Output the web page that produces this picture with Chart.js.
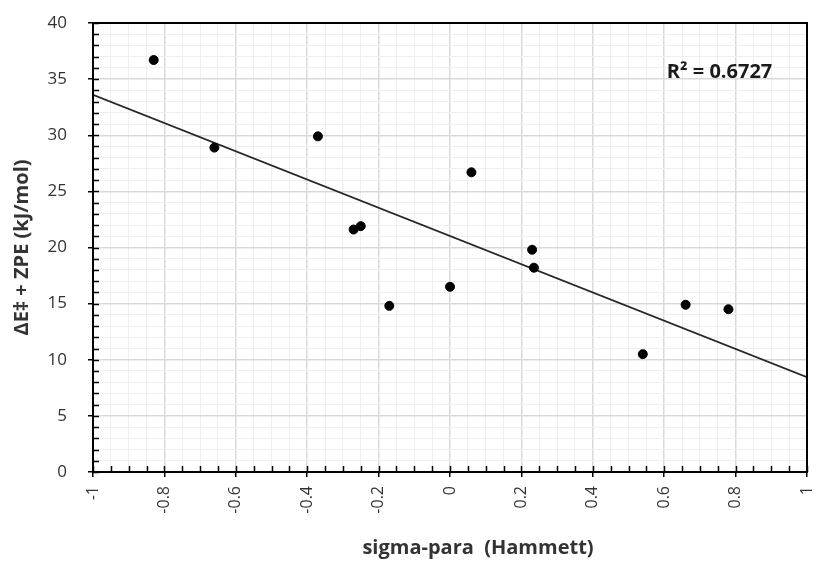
<!DOCTYPE html>
<html>
<head>
<meta charset="utf-8">
<script src="https://cdn.jsdelivr.net/npm/chart.js@4"></script>
<style>
    html, body { margin: 0; padding: 0; background: #ffffff; }
    #chartBox { width: 817px; height: 561px; }
</style>
</head>
<body>
<div id="chartBox"><canvas id="ChartCanvas"></canvas></div>
<script>
var hammettChart = document.getElementById("ChartCanvas").getContext("2d");

// sigma-para values and barrier heights
var sigmaPara = [-0.83, -0.66, -0.37, -0.27, -0.25, -0.17, 0.00, 0.06, 0.23, 0.235, 0.54, 0.66, 0.78];
var barrierEnergy = [36.7, 28.9, 29.9, 21.6, 21.9, 14.8, 16.5, 26.7, 19.8, 18.2, 10.5, 14.9, 14.5];

// linear trend line end points
var trendX = [-1, 1];
var trendY = [33.6, 8.45];

var rSquaredText = "R² = 0.6727";
var rSquaredAt = { x: 0.755, y: 35.6 };

var xTitleText = "sigma-para  (Hammett)";

var fontName = "'Open Sans', Lato, sans-serif";

function isMajorX(value)
{
    return Math.round(value * 100) % 20 === 0;
}

function isMajorY(value)
{
    return Math.round(value) % 5 === 0;
}

var frameAndTicks = //plot border, inner tick marks, the R² note and the x title
{
    id: 'frameAndTicks',
    afterDatasetsDraw: function(chart)
    {
        var ctx = chart.ctx;
        var area = chart.chartArea;
        var xScale = chart.scales.x;
        var yScale = chart.scales.y;

        ctx.save();
        ctx.strokeStyle = '#000000';
        ctx.lineWidth = 1.5;

        for(var v = -1; v <= 1.0001; v += 0.05) //inner ticks on the x axis
        {
            var px = Math.round(xScale.getPixelForValue(v)) + 0.5;
            ctx.beginPath();
            ctx.moveTo(px, area.bottom);
            ctx.lineTo(px, area.bottom - 6);
            ctx.stroke();
        }
        for(var w = 0; w <= 40; w += 1) //inner ticks on the y axis
        {
            var py = Math.round(yScale.getPixelForValue(w)) + 0.5;
            ctx.beginPath();
            ctx.moveTo(area.left, py);
            ctx.lineTo(area.left + 6, py);
            ctx.stroke();
        }

        ctx.lineWidth = 2;
        ctx.strokeRect(area.left, area.top, area.right - area.left, area.bottom - area.top);

        ctx.fillStyle = '#1a1a1a';
        ctx.font = "bold 20px " + fontName;
        ctx.textAlign = 'center';
        ctx.textBaseline = 'middle';
        ctx.fillText(rSquaredText, xScale.getPixelForValue(rSquaredAt.x), yScale.getPixelForValue(rSquaredAt.y));

        ctx.fillStyle = '#333333';
        ctx.fillText(xTitleText, (area.left + area.right) / 2 + 28, chart.height - 13);
        ctx.restore();
    }
};

var data =
{
    datasets:
    [
        {
            type: 'scatter',
            data: sigmaPara.map(function(s, i) { return { x: s, y: barrierEnergy[i] }; }),
            backgroundColor: '#000000',
            borderColor: '#000000',
            pointRadius: 4.5,
            pointHoverRadius: 4.5,
            order: 1
        },
        {
            type: 'line',
            data: trendX.map(function(s, i) { return { x: s, y: trendY[i] }; }),
            borderColor: '#262626',
            borderWidth: 1.8,
            pointRadius: 0,
            fill: false,
            order: 2
        }
    ]
};

var config =
{
    type: 'scatter',
    data: data,
    plugins: [frameAndTicks],
    options:
    {
        responsive: true,
        maintainAspectRatio: false,
        animation: false,
        layout: { padding: { top: 23, right: 10, left: 0, bottom: 0 } },
        plugins:
        {
            legend: { display: false },
            tooltip: { enabled: false }
        },
        scales:
        {
            x:
            {
                type: 'linear',
                min: -1,
                max: 1,
                afterFit: function(scale)
                {
                    scale.height = 89;
                    scale.paddingLeft = 0;
                    scale.paddingRight = 0; //no extra room for the rotated end label
                },
                afterBuildTicks: function(scale)
                {
                    var list = [];
                    for(var i = -20; i <= 20; i++) list.push({ value: i / 20 });
                    scale.ticks = list;
                },
                grid:
                {
                    color: function(c) { return isMajorX(c.tick.value) ? '#d9d9d9' : '#efefef'; },
                    lineWidth: function(c) { return isMajorX(c.tick.value) ? 1.5 : 1; },
                    tickColor: function(c) { return isMajorX(c.tick.value) ? '#000000' : 'rgba(0,0,0,0)'; },
                    tickLength: 5
                },
                border: { color: '#000000', width: 2 },
                ticks:
                {
                    autoSkip: false,
                    minRotation: 90,
                    maxRotation: 90,
                    padding: 9,
                    color: '#333333',
                    font: { family: fontName, size: 16 },
                    callback: function(value)
                    {
                        if(!isMajorX(value)) return '';
                        return String(Math.round(value * 10) / 10);
                    }
                }
            },
            y:
            {
                type: 'linear',
                min: 0,
                max: 40,
                afterFit: function(scale)
                {
                    scale.width = 93;
                    scale.paddingTop = 0;
                    scale.paddingBottom = 0; //top edge comes from the layout padding only
                },
                afterBuildTicks: function(scale)
                {
                    var list = [];
                    for(var i = 0; i <= 40; i++) list.push({ value: i });
                    scale.ticks = list;
                },
                grid:
                {
                    color: function(c) { return isMajorY(c.tick.value) ? '#d9d9d9' : '#efefef'; },
                    lineWidth: function(c) { return isMajorY(c.tick.value) ? 1.5 : 1; },
                    tickColor: function(c) { return isMajorY(c.tick.value) ? '#000000' : 'rgba(0,0,0,0)'; },
                    tickLength: 5
                },
                border: { color: '#000000', width: 2 },
                ticks:
                {
                    autoSkip: false,
                    padding: 21,
                    color: '#333333',
                    font: { family: fontName, size: 17 },
                    callback: function(value)
                    {
                        return isMajorY(value) ? String(Math.round(value)) : '';
                    }
                },
                title:
                {
                    display: true,
                    text: 'ΔE‡ + ZPE (kJ/mol)',
                    color: '#333333',
                    font: { family: fontName, size: 20, weight: 'bold' },
                    padding: { top: 10, bottom: 0 }
                }
            }
        }
    }
};

var createdChart = new Chart(hammettChart, config);
</script>
</body>
</html>
